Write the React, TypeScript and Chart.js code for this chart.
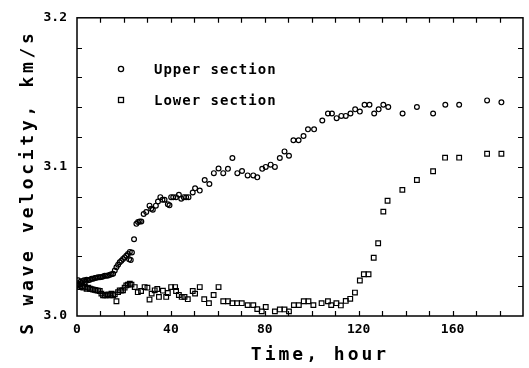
import React, { useEffect, useRef } from "react";
import { Chart, registerables } from "chart.js";

Chart.register(...registerables);

const upperTime = [
  0, 0.5, 1, 1.5, 2, 2.4, 3, 3.5, 4.1, 4.8, 5.5, 6.2, 6.9, 7.6, 8.3, 9, 9.7, 10.4, 11.1, 11.8,
  12.6, 13.3, 14, 14.7, 15.4, 16.1, 16.8, 17.5, 18.2, 18.9, 19.6, 20.3, 21, 21.7, 22.2, 22.5,
  22.9, 23.4, 24.3, 25.3, 26, 26.7, 27.4, 28.4, 29.5, 30.9, 31.6, 32.3, 33.6, 34.5, 35.5, 36.4,
  37.3, 38.7, 39.4, 40.1, 41, 42.2, 43.4, 44.4, 45.5, 46.5, 47.5, 49.3, 50.3, 52.3, 54.4, 56.4,
  58.3, 60.3, 62.3, 64.3, 66.2, 68.3, 70.3, 72.7, 75.1, 76.8, 78.9, 80.4, 82.5, 84.3, 86.4, 88.4,
  90.3, 92.2, 94.4, 96.5, 98.4, 101, 104.5, 106.9, 108.6, 110.6, 112.6, 114.5, 116.5, 118.5,
  120.5, 122.5, 124.6, 126.6, 128.5, 130.5, 132.6, 138.7, 144.8, 151.7, 156.9, 162.8, 174.7, 180.8,
];
const upperVelocity = [
  3.022, 3.024, 3.021, 3.023, 3.022, 3.0234, 3.024, 3.023, 3.0243, 3.024, 3.0243, 3.025, 3.025,
  3.0255, 3.0256, 3.026, 3.026, 3.0262, 3.0265, 3.027, 3.027, 3.0272, 3.0276, 3.028, 3.0283,
  3.0305, 3.0327, 3.0344, 3.036, 3.0371, 3.0382, 3.0393, 3.0404, 3.0415, 3.038, 3.043, 3.0375,
  3.0426, 3.0515, 3.0618, 3.063, 3.0634, 3.0634, 3.0684, 3.0697, 3.074, 3.072, 3.0713, 3.074,
  3.0768, 3.0797, 3.078, 3.078, 3.075, 3.0742, 3.0797, 3.0797, 3.0797, 3.0813, 3.0786, 3.0797,
  3.0797, 3.0797, 3.0828, 3.0856, 3.0841, 3.0912, 3.0885, 3.0958, 3.0989, 3.0958, 3.0987, 3.106,
  3.0958, 3.0972, 3.0943, 3.0943, 3.093, 3.0987, 3.1, 3.1015, 3.1, 3.106, 3.1104, 3.1075, 3.1179,
  3.1179, 3.1207, 3.1252, 3.1252, 3.1311, 3.1358, 3.1358, 3.1327, 3.1342, 3.1342, 3.1358, 3.1386,
  3.1371, 3.1417, 3.1417, 3.1358, 3.1386, 3.1417, 3.1402, 3.1358, 3.1402, 3.1358, 3.1417, 3.1417,
  3.1446, 3.1433,
];

const lowerTime = [
  0, 0.7, 1.3, 2, 2.7, 3.4, 4.1, 4.8, 5.5, 6.2, 6.9, 7.6, 8.3, 9, 9.7, 10.4, 11.1, 11.8, 12.6,
  13.3, 14, 14.7, 15.4, 16.1, 16.8, 17.5, 18.2, 18.9, 19.6, 20.3, 21, 21.7, 22.5, 23.2, 24.6, 25.9,
  27.3, 28.8, 30, 30.9, 31.8, 33.1, 34.2, 34.9, 36.6, 38, 38.7, 40.1, 41.8, 42.2, 43.4, 44.6, 45.8,
  47.2, 49.3, 50.3, 52.3, 54.2, 56.2, 58.2, 60.3, 62.3, 64.3, 66.2, 68.2, 70.2, 72.7, 75.1, 76.8,
  78.7, 80.4, 84.3, 86.4, 88.4, 90.3, 92.4, 94.5, 96.6, 98.6, 100.7, 104.2, 106.9, 108.3, 110.5,
  112.4, 114.5, 116.4, 118.4, 120.5, 122.2, 124.2, 126.4, 128.3, 130.5, 132.3, 138.6, 144.8, 151.7,
  156.8, 162.8, 174.7, 180.8,
];
const lowerVelocity = [
  3.0205, 3.021, 3.0194, 3.02, 3.019, 3.0195, 3.0183, 3.019, 3.0183, 3.018, 3.0177, 3.0175,
  3.0172, 3.017, 3.0168, 3.015, 3.0139, 3.0139, 3.0139, 3.0145, 3.0139, 3.015, 3.0139, 3.0145,
  3.0099, 3.016, 3.0172, 3.017, 3.0172, 3.019, 3.0205, 3.021, 3.0216, 3.021, 3.0194, 3.016, 3.0168,
  3.0194, 3.019, 3.011, 3.015, 3.0172, 3.0181, 3.0128, 3.017, 3.0128, 3.0154, 3.0194, 3.0194,
  3.0168, 3.0141, 3.0128, 3.0128, 3.0113, 3.0168, 3.015, 3.0194, 3.0113, 3.0086, 3.0141, 3.0194,
  3.0099, 3.0099, 3.0086, 3.0086, 3.0086, 3.0073, 3.0073, 3.0046, 3.0031, 3.006, 3.0031, 3.0044,
  3.0044, 3.0031, 3.0073, 3.0073, 3.0099, 3.0099, 3.0073, 3.0086, 3.0099, 3.0073, 3.0086, 3.0071,
  3.0101, 3.0115, 3.0157, 3.0238, 3.028, 3.028, 3.0391, 3.0488, 3.07, 3.0773, 3.0846, 3.0912,
  3.0971, 3.1062, 3.1062, 3.1088, 3.1088,
];

const seriesNames = ["Upper section", "Lower section"];
const xTitle = "Time, hour";
const yTitle = "S wave velocity, km/s";

const FONT = "'DejaVu Sans Mono', monospace";

const decorPlugin = {
  id: "decor",
  afterDraw(chart: any) {
    const { ctx, chartArea: a, scales } = chart;
    const xs = scales.x;
    const ys = scales.y;
    ctx.save();
    ctx.strokeStyle = "#000";
    ctx.lineWidth = 1.5;
    ctx.strokeRect(a.left, a.top, a.right - a.left, a.bottom - a.top);
    ctx.lineWidth = 1.2;
    const tl = 5;
    ctx.beginPath();
    xs.ticks.forEach((t: any) => {
      const px = Math.round(xs.getPixelForValue(t.value)) + 0.5;
      if (px <= a.left + 1 || px >= a.right - 1) return;
      ctx.moveTo(px, a.bottom);
      ctx.lineTo(px, a.bottom - tl);
      ctx.moveTo(px, a.top);
      ctx.lineTo(px, a.top + tl);
    });
    ys.ticks.forEach((t: any) => {
      const py = Math.round(ys.getPixelForValue(t.value)) + 0.5;
      if (py <= a.top + 1 || py >= a.bottom - 1) return;
      ctx.moveTo(a.left, py);
      ctx.lineTo(a.left + tl, py);
      ctx.moveTo(a.right, py);
      ctx.lineTo(a.right - tl, py);
    });
    ctx.stroke();

    // legend
    ctx.fillStyle = "#000";
    ctx.lineWidth = 1.3;
    ctx.beginPath();
    ctx.arc(121, 69, 2.6, 0, Math.PI * 2);
    ctx.stroke();
    ctx.strokeRect(118.5, 97.5, 5, 5);
    ctx.font = `bold 14px ${FONT}`;
    (ctx as any).letterSpacing = "1px";
    ctx.textBaseline = "middle";
    ctx.textAlign = "left";
    ctx.fillText(seriesNames[0], 154, 70);
    ctx.fillText(seriesNames[1], 154, 101);

    // axis titles
    ctx.font = `bold 18px ${FONT}`;
    (ctx as any).letterSpacing = "3px";
    ctx.textAlign = "center";
    ctx.fillText(xTitle, 320, 355);
    ctx.translate(28, 182);
    ctx.rotate(-Math.PI / 2);
    (ctx as any).letterSpacing = "3.7px";
    ctx.fillText(yTitle, 0, 0);
    ctx.restore();
  },
};

export default function App() {
  const ref = useRef<HTMLCanvasElement | null>(null);
  useEffect(() => {
    document.body.style.margin = "0";
    const canvas = ref.current!;
    const chart = new Chart(canvas, {
      type: "scatter",
      data: {
        datasets: [
          {
            label: seriesNames[0],
            data: upperTime.map((t, i) => ({ x: t, y: upperVelocity[i] })),
            pointStyle: "circle",
            pointRadius: 2.4,
            borderColor: "#000",
            backgroundColor: "rgba(0,0,0,0)",
            borderWidth: 1.2,
          },
          {
            label: seriesNames[1],
            data: lowerTime.map((t, i) => ({ x: t, y: lowerVelocity[i] })),
            pointStyle: "rect",
            pointRadius: 3.3,
            borderColor: "#000",
            backgroundColor: "rgba(0,0,0,0)",
            borderWidth: 1.2,
          },
        ],
      },
      options: {
        animation: false,
        responsive: false,
        devicePixelRatio: 1,
        layout: { padding: { top: 14, right: 3, left: 0, bottom: 0 } },
        plugins: {
          legend: { display: false },
          tooltip: { enabled: false },
        },
        scales: {
          x: {
            type: "linear",
            min: 0,
            max: 190,
            grid: { display: false, drawTicks: false },
            border: { display: false },
            afterFit: (s: any) => {
              s.height = 52;
            },
            ticks: {
              stepSize: 10,
              autoSkip: false,
              maxRotation: 0,
              padding: 6,
              color: "#000",
              font: { family: FONT, size: 13, weight: "bold" },
              callback: (v: any) => (Math.round(v) % 40 === 0 && v <= 160 ? String(Math.round(v)) : ""),
            },
          },
          y: {
            type: "linear",
            min: 3.0,
            max: 3.2,
            grid: { display: false, drawTicks: false },
            border: { display: false },
            afterFit: (s: any) => {
              s.width = 77;
            },
            ticks: {
              stepSize: 0.02,
              autoSkip: false,
              padding: 10,
              color: "#000",
              font: { family: FONT, size: 13, weight: "bold" },
              callback: (v: any) => {
                const r = Math.round(Number(v) * 100);
                return r % 10 === 0 ? (r / 100).toFixed(1) : "";
              },
            },
          },
        },
      },
      plugins: [decorPlugin],
    } as any);
    return () => chart.destroy();
  }, []);
  return (
    <div style={{ position: "fixed", left: 0, top: 0, width: 529, height: 368, background: "#fff" }}>
      <canvas ref={ref} width={529} height={368} />
    </div>
  );
}
